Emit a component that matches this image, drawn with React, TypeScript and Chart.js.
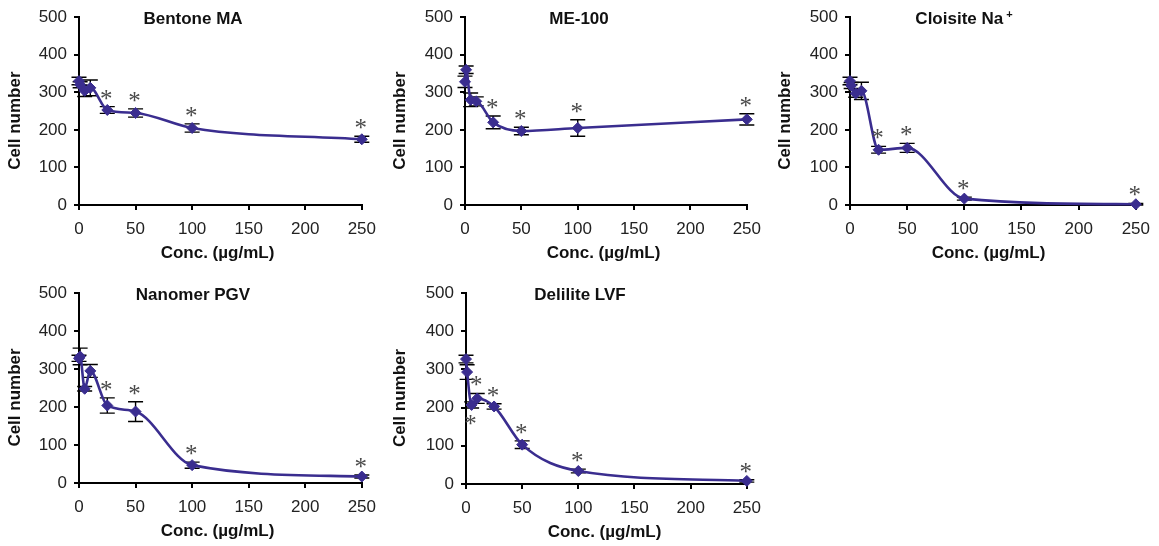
import React, { useEffect, useRef } from 'react';
import { Chart, registerables } from 'chart.js';

Chart.register(...registerables);

// ---- data ----
const conc = [0, 1, 5, 10, 25, 50, 100, 250];
const xTicks = [0, 50, 100, 150, 200, 250];
const yTicks = [0, 100, 200, 300, 400, 500];

const bentoneMean = [330, 320, 304, 312, 253, 245, 205, 175];
const bentoneErr = [10, 8, 15, 21, 9, 11, 11, 8];
const bentoneSig: [number, string][] = [[25, 'above'], [50, 'above'], [100, 'above'], [250, 'above']];

const me100Mean = [328, 360, 280, 276, 220, 197, 205, 228];
const me100Err = [15, 10, 18, 12, 17, 10, 22, 15];
const me100Sig: [number, string][] = [[25, 'above'], [50, 'above'], [100, 'above'], [250, 'above']];

const cloisiteMean = [330, 318, 297, 304, 147, 152, 17, 2];
const cloisiteErr = [10, 8, 10, 23, 9, 12, 4, 2];
const cloisiteSig: [number, string][] = [[25, 'above'], [50, 'above'], [100, 'above'], [250, 'above']];

const nanomerMean = [328, 333, 248, 295, 204, 188, 47, 17];
const nanomerErr = [8, 22, 6, 17, 20, 26, 8, 4];
const nanomerSig: [number, string][] = [[25, 'above'], [50, 'above'], [100, 'above'], [250, 'above']];

const deliliteMean = [327, 293, 207, 224, 203, 103, 34, 8];
const deliliteErr = [10, 19, 8, 13, 7, 10, 5, 3];
const deliliteSig: [number, string][] = [[5, 'below'], [10, 'above'], [25, 'above'], [50, 'above'], [100, 'above'], [250, 'above']];

const FONT = '"Liberation Sans", Arial, Helvetica, sans-serif';
const LINE_COLOR = '#3a2d8f';

type Panel = {
  title: string;
  sup?: string;
  mean: number[];
  err: number[];
  sig: [number, string][];
  left: number; top: number; width: number; height: number;
  yW: number; padTop: number; padRight: number;
};

const panels: Panel[] = [
  { title: 'Bentone MA', mean: bentoneMean, err: bentoneErr, sig: bentoneSig, left: 0, top: 0, width: 385, height: 270, yW: 79, padTop: 16, padRight: 21 },
  { title: 'ME-100', mean: me100Mean, err: me100Err, sig: me100Sig, left: 385, top: 0, width: 385, height: 270, yW: 80, padTop: 16, padRight: 20 },
  { title: 'Cloisite Na', sup: '+', mean: cloisiteMean, err: cloisiteErr, sig: cloisiteSig, left: 770, top: 0, width: 389, height: 270, yW: 80, padTop: 16, padRight: 23 },
  { title: 'Nanomer PGV', mean: nanomerMean, err: nanomerErr, sig: nanomerSig, left: 0, top: 275, width: 385, height: 273, yW: 79, padTop: 18, padRight: 21 },
  { title: 'Delilite LVF', mean: deliliteMean, err: deliliteErr, sig: deliliteSig, left: 385, top: 275, width: 385, height: 274, yW: 81, padTop: 18, padRight: 18 },
];

function PanelChart({ p }: { p: Panel }) {
  const ref = useRef<HTMLCanvasElement | null>(null);
  useEffect(() => {
    if (!ref.current) return;
    const decor = {
      id: 'decor',
      beforeDatasetsDraw(chart: any) {
        const { ctx, scales } = chart;
        const x = scales.x, y = scales.y;
        ctx.save();
        ctx.strokeStyle = '#000';
        ctx.lineWidth = 1.4;
        p.err.forEach((e, i) => {
          const px = x.getPixelForValue(conc[i]);
          const t = y.getPixelForValue(p.mean[i] + e);
          const b = y.getPixelForValue(p.mean[i] - e);
          ctx.beginPath();
          ctx.moveTo(px, t); ctx.lineTo(px, b);
          ctx.moveTo(px - 7.5, t); ctx.lineTo(px + 7.5, t);
          ctx.moveTo(px - 7.5, b); ctx.lineTo(px + 7.5, b);
          ctx.stroke();
        });
        ctx.restore();
      },
      afterDatasetsDraw(chart: any) {
        const { ctx, scales, chartArea } = chart;
        const x = scales.x, y = scales.y;
        ctx.save();
        // asterisks
        ctx.fillStyle = '#4a4a4a';
        ctx.font = '25px "Liberation Serif", "Times New Roman", serif';
        ctx.textAlign = 'center';
        ctx.textBaseline = 'alphabetic';
        p.sig.forEach(([cx, side]) => {
          const i = conc.indexOf(cx);
          const px = x.getPixelForValue(cx);
          let cy;
          if (side === 'above') cy = y.getPixelForValue(p.mean[i] + p.err[i]) - 13;
          else cy = y.getPixelForValue(p.mean[i] - p.err[i]) + 11;
          ctx.fillText('*', px - 1, cy + 13);
        });
        // title
        ctx.fillStyle = '#111';
        ctx.font = 'bold 17px ' + FONT;
        ctx.textBaseline = 'middle';
        const tx = chartArea.left + 114;
        const ty = chartArea.top + 2;
        if (p.sup) {
          const w1 = ctx.measureText(p.title).width;
          ctx.font = 'bold 11px ' + FONT;
          const w2 = ctx.measureText(p.sup).width;
          const total = w1 + 3 + w2;
          const sx = tx - total / 2;
          ctx.textAlign = 'left';
          ctx.font = 'bold 17px ' + FONT;
          ctx.fillText(p.title, sx, ty);
          ctx.font = 'bold 11px ' + FONT;
          ctx.fillText(p.sup, sx + w1 + 3, ty - 4);
        } else {
          ctx.textAlign = 'center';
          ctx.fillText(p.title, tx, ty);
        }
        // x title
        ctx.font = 'bold 17px ' + FONT;
        ctx.textAlign = 'center';
        ctx.fillText('Conc. (\u00b5g/mL)', chartArea.left + 138.5, chartArea.bottom + 48);
        // y title
        ctx.translate(15.5, (chartArea.top + chartArea.bottom) / 2 + 9.5);
        ctx.rotate(-Math.PI / 2);
        ctx.fillText('Cell number', 0, 0);
        ctx.restore();
      },
    };
    const chart = new Chart(ref.current, {
      type: 'line',
      data: {
        datasets: [
          {
            data: conc.map((c, i) => ({ x: c, y: p.mean[i] })),
            borderColor: LINE_COLOR,
            backgroundColor: LINE_COLOR,
            borderWidth: 2.6,
            pointStyle: 'rectRot',
            pointRadius: 5.5,
            pointBorderWidth: 1,
            pointBackgroundColor: LINE_COLOR,
            pointBorderColor: LINE_COLOR,
            cubicInterpolationMode: 'monotone',
            clip: false as any,
          },
        ],
      },
      options: {
        animation: false,
        responsive: false,
        maintainAspectRatio: false,
        events: [],
        layout: { padding: { left: 0, top: p.padTop, right: p.padRight, bottom: 0 } },
        plugins: { legend: { display: false }, tooltip: { enabled: false }, title: { display: false } },
        scales: {
          x: {
            type: 'linear',
            min: 0,
            max: 250,
            afterBuildTicks: (s: any) => { s.ticks = xTicks.map((v) => ({ value: v })); },
            ticks: { font: { family: FONT, size: 17 }, color: '#222', padding: 9, maxRotation: 0, autoSkip: false },
            grid: { drawOnChartArea: false, drawTicks: true, tickLength: 5, color: '#000', lineWidth: 2 },
            border: { color: '#000', width: 2 },
            afterFit: (s: any) => { s.height = 65; },
          },
          y: {
            type: 'linear',
            min: 0,
            max: 500,
            afterBuildTicks: (s: any) => { s.ticks = yTicks.map((v) => ({ value: v })); },
            ticks: { font: { family: FONT, size: 17 }, color: '#222', padding: 7, autoSkip: false },
            grid: { drawOnChartArea: false, drawTicks: true, tickLength: 5, color: '#000', lineWidth: 2 },
            border: { color: '#000', width: 2 },
            afterFit: (s: any) => { s.width = p.yW; },
          },
        },
      } as any,
      plugins: [decor],
    });
    return () => chart.destroy();
  }, [p]);
  return (
    <canvas
      ref={ref}
      width={p.width}
      height={p.height}
      style={{ position: 'absolute', left: p.left, top: p.top, width: p.width, height: p.height }}
    />
  );
}

export default function App() {
  return (
    <div style={{ position: 'absolute', left: 0, top: 0, width: 1159, height: 546, overflow: 'hidden', background: '#fff' }}>
      {panels.map((p) => (
        <PanelChart key={p.title} p={p} />
      ))}
    </div>
  );
}
